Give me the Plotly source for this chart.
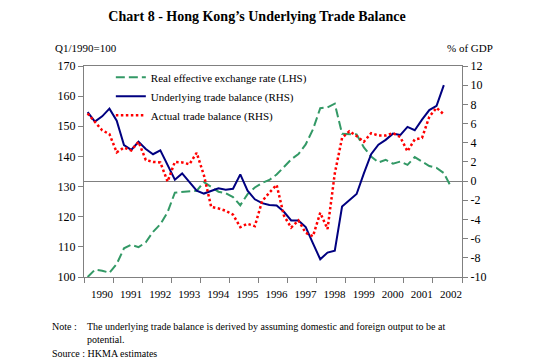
import plotly.graph_objects as go

# Quarterly data, Q1 1990 onwards
years = ["1990", "1991", "1992", "1993", "1994", "1995", "1996",
         "1997", "1998", "1999", "2000", "2001", "2002"]

reer = [100.0, 102.4, 102.1, 101.4, 104.3, 109.5, 110.7, 109.9, 111.5, 115.0,
        117.5, 121.5, 128.0, 128.2, 128.3, 128.6, 131.5, 130.0, 128.3, 127.8,
        126.5, 123.8, 127.5, 129.7, 131.2, 132.2, 134.0, 136.5, 139.0, 140.8,
        144.0, 149.0, 156.0, 156.3, 157.5, 147.5, 147.5, 147.3, 143.0, 140.0,
        138.0, 138.9, 137.6, 138.3, 137.2, 139.8, 138.3, 136.8, 136.2, 134.5,
        129.8]

underlying = [7.2, 6.2, 6.75, 7.55, 6.3, 3.75, 3.25, 4.1, 3.35, 2.8,
              3.2, 1.65, 0.15, 0.8, -0.1, -1.0, -1.3, -1.05, -0.75, -0.9,
              -0.8, 0.7, -1.0, -1.9, -2.3, -2.5, -2.55, -3.2, -4.1, -4.1,
              -4.8, -6.5, -8.15, -7.45, -7.25, -2.65, -2.0, -1.35, 0.8, 2.8,
              3.8, 4.3, 4.95, 4.8, 5.65, 5.3, 6.4, 7.4, 7.85, 10.0]

actual = [7.05, 6.2, 5.3, 4.9, 3.0, 3.5, 3.2, 4.1, 2.2, 2.0,
          1.95, -0.05, 2.0, 1.95, 1.75, 2.95, 0.6, -2.7, -2.85, -3.1,
          -3.5, -4.8, -4.45, -4.7, -2.1, -1.2, -0.4, -3.6, -4.85, -4.1,
          -5.4, -5.75, -3.3, -5.0, 0.8, 4.5, 5.2, 4.7, 4.1, 5.0,
          4.75, 4.75, 5.0, 4.6, 3.1, 4.35, 4.5, 6.7, 7.65, 6.95]

lhs_ticks = [100, 110, 120, 130, 140, 150, 160, 170]
rhs_ticks = [-10, -8, -6, -4, -2, 0, 2, 4, 6, 8, 10, 12]
rhs_labels = ["-10", "-8", "-6", "-4", "-2", "0", "2", "4", "6", "8", "10", "12"]


def qpos(series):
    # centre of each quarter slot on a 4-slots-per-year axis
    return [i + 0.5 for i in range(len(series))]


FONT = "Liberation Serif"
GRAY = "#808080"

fig = go.Figure()
fig.add_trace(go.Scatter(
    x=qpos(reer), y=reer, mode="lines", name="Real effective exchange rate (LHS)",
    line=dict(color="#339966", width=2, dash="9px,4px"), yaxis="y"))
fig.add_trace(go.Scatter(
    x=qpos(underlying), y=underlying, mode="lines", name="Underlying trade balance (RHS)",
    line=dict(color="#000080", width=2), yaxis="y2"))
fig.add_trace(go.Scatter(
    x=qpos(actual), y=actual, mode="lines", name="Actual trade balance (RHS)",
    line=dict(color="#FF0000", width=2.5, dash="2.5px,2.5px"), yaxis="y2"))

n_slots = 4 * len(years)
fig.update_layout(
    width=548, height=361,
    margin=dict(l=84, r=86, t=66, b=84),
    paper_bgcolor="white", plot_bgcolor="white",
    font=dict(family=FONT, size=11, color="black"),
    showlegend=True,
    title=dict(text="<b>Chart 8 - Hong Kong’s Underlying Trade Balance</b>",
               font=dict(family=FONT, size=14, color="black"),
               x=257 / 548, xanchor="center", xref="container",
               y=1 - 16 / 361, yanchor="middle", yref="container"),
    legend=dict(x=0.071, y=1.015, xanchor="left", yanchor="top",
                bgcolor="rgba(0,0,0,0)", font=dict(family=FONT, size=11),
                itemwidth=30, tracegroupgap=0),
    xaxis=dict(range=[0, n_slots],
               tickmode="array",
               tickvals=list(range(0, n_slots + 1, 4)),
               ticktext=years + [""],
               ticks="outside", ticklen=5, tickcolor=GRAY,
               ticklabelshift=18, ticklabelstandoff=2,
               showline=True, linecolor=GRAY, linewidth=1, mirror=True,
               showgrid=False, zeroline=False,
               tickfont=dict(family=FONT, size=11)),
    yaxis=dict(range=[100, 170], tickmode="array", tickvals=lhs_ticks,
               ticks="outside", ticklen=5, tickcolor=GRAY,
               showline=True, linecolor=GRAY, linewidth=1,
               showgrid=False, zeroline=False,
               tickfont=dict(family=FONT, size=12)),
    yaxis2=dict(range=[-10, 12], tickmode="array", tickvals=rhs_ticks, ticktext=rhs_labels,
                overlaying="y", side="right",
                ticks="outside", ticklen=5, tickcolor=GRAY,
                showline=True, linecolor=GRAY, linewidth=1,
                showgrid=False, zeroline=True, zerolinecolor=GRAY, zerolinewidth=1,
                tickfont=dict(family=FONT, size=12)),
)


def px_x(px):
    return (px - 84) / 378


def px_y(py):
    return (277 - py) / 211


annos = [
    dict(text="Q1/1990=100", x=px_x(53), y=px_y(48), xanchor="left", yanchor="middle", size=11),
    dict(text="% of GDP", x=px_x(495), y=px_y(48), xanchor="right", yanchor="middle", size=11),
    dict(text="Note :", x=px_x(50), y=px_y(326), xanchor="left", yanchor="middle", size=10),
    dict(text="The underlying trade balance is derived by assuming domestic and foreign output to be at",
         x=px_x(85), y=px_y(326), xanchor="left", yanchor="middle", size=10),
    dict(text="potential.", x=px_x(85), y=px_y(340), xanchor="left", yanchor="middle", size=10),
    dict(text="Source : HKMA estimates", x=px_x(50), y=px_y(353), xanchor="left", yanchor="middle", size=10),
]
for a in annos:
    fig.add_annotation(text=a["text"], x=a["x"], y=a["y"], xref="paper", yref="paper",
                       xanchor=a["xanchor"], yanchor=a["yanchor"], showarrow=False,
                       font=dict(family=FONT, size=a["size"], color="black"))

fig.write_html("out.html",
               config={"displayModeBar": False},
               post_script="document.body.style.margin='0';document.body.style.padding='0';")
